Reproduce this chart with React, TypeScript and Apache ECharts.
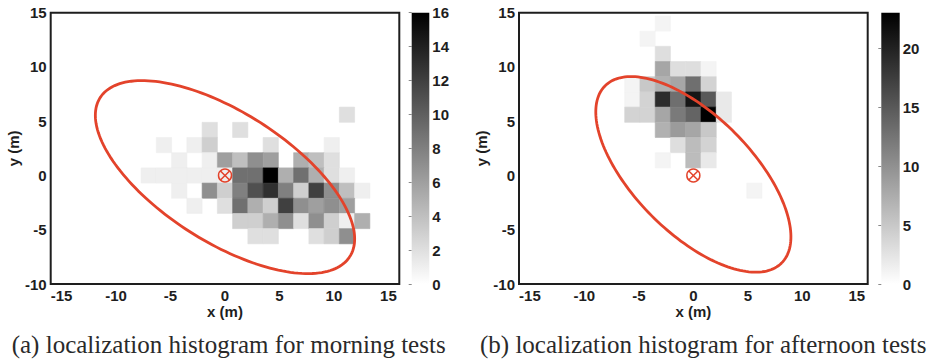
import React, { useEffect, useRef } from "react";
import * as echarts from "echarts";

// Histogram bin size (m) and cell counts: [column index, row index, count]
const BIN = 1.4;

const MORNING_COUNTS: [number, number, number][] = [
  [8, 4, 2],
  [-1, 3, 2], [1, 3, 2],
  [-4, 2, 1], [-2, 2, 1], [-1, 2, 3], [3, 2, 2], [7, 2, 1],
  [-3, 1, 1], [-1, 1, 1], [0, 1, 6], [1, 1, 4], [2, 1, 7], [3, 1, 6], [5, 1, 5], [6, 1, 4], [7, 1, 2],
  [-5, 0, 1], [-4, 0, 1], [-3, 0, 1], [-2, 0, 1], [-1, 0, 1], [0, 0, 1],
  [1, 0, 9], [2, 0, 9], [3, 0, 16], [4, 0, 5], [5, 0, 9], [6, 0, 5], [7, 0, 2], [8, 0, 1],
  [-3, -1, 1], [-1, -1, 7], [0, -1, 3], [1, -1, 8], [2, -1, 11], [3, -1, 13], [4, -1, 8],
  [5, -1, 3], [6, -1, 12], [7, -1, 7], [8, -1, 4], [9, -1, 1],
  [-2, -2, 1], [0, -2, 2], [1, -2, 9], [2, -2, 5], [3, -2, 3], [4, -2, 12], [5, -2, 7],
  [6, -2, 6], [7, -2, 7], [8, -2, 6],
  [1, -3, 3], [2, -3, 3], [3, -3, 5], [4, -3, 7], [5, -3, 2], [6, -3, 7], [7, -3, 3], [8, -3, 1], [9, -3, 5],
  [2, -4, 2], [3, -4, 2], [6, -4, 2], [7, -4, 3], [8, -4, 7],
];

const AFTERNOON_COUNTS: [number, number, number][] = [
  [-2, 10, 1],
  [-3, 9, 1],
  [-2, 8, 3],
  [-2, 7, 8], [-1, 7, 3], [0, 7, 3], [1, 7, 1],
  [-4, 6, 1], [-3, 6, 5], [-2, 6, 7], [-1, 6, 8], [0, 6, 13], [1, 6, 4],
  [-4, 5, 1], [-3, 5, 4], [-2, 5, 19], [-1, 5, 13], [0, 5, 21], [1, 5, 15], [2, 5, 2],
  [-4, 4, 4], [-3, 4, 4], [-2, 4, 8], [-1, 4, 12], [0, 4, 14], [1, 4, 23], [2, 4, 2],
  [-2, 3, 7], [-1, 3, 9], [0, 3, 8], [1, 3, 5],
  [-1, 2, 3], [0, 2, 6], [1, 2, 4],
  [-2, 1, 1], [0, 1, 6], [1, 1, 2],
  [4, -1, 1],
];

// Error ellipses: [centerX, centerY, semiMajor, semiMinor, angleDeg]
const MORNING_ELLIPSE: number[] = [0, -0.15, 13.6, 5.98, -32.6];
const AFTERNOON_ELLIPSE: number[] = [0, 0.1, 11.5, 5.4, -45.3];

// True target position
const TARGET: number[] = [0, 0];

// Colour-bar maxima and ticks
const MORNING_MAX = 16;
const AFTERNOON_MAX = 23;
const MORNING_CB_INTERVAL = 2;
const AFTERNOON_CB_INTERVAL = 5;

const X_MIN = -16;
const X_MAX = 16;
const X_TICKS = [-15, -10, -5, 0, 5, 10, 15];
const Y_MIN = -10;
const Y_MAX = 15;
const Y_INTERVAL = 5;

const CAPTION_A = "(a) localization histogram for morning tests";
const CAPTION_B = "(b) localization histogram for afternoon tests";
const X_NAME = "x (m)";
const Y_NAME = "y (m)";

const RED = "#e3432b";
const INK = "#1e1e1e";
const LABEL_FONT = {
  fontFamily: "Liberation Sans, Arial, sans-serif",
  fontWeight: "bold" as const,
  fontSize: 15,
  color: INK,
};

function gray(v: number, max: number): string {
  const t = Math.max(0, Math.min(1, v / max));
  const g = Math.round(255 * (1 - t));
  return `rgb(${g},${g},${g})`;
}

function heatSeries(counts: [number, number, number][], max: number, idx: number) {
  return {
    type: "custom",
    xAxisIndex: idx,
    yAxisIndex: idx,
    z: 1,
    encode: { x: 0, y: 1 },
    data: counts.map(([c, r, v]) => [c * BIN, r * BIN, v]),
    renderItem: (_params: any, api: any) => {
      const x = api.value(0);
      const y = api.value(1);
      const v = api.value(2);
      const p0 = api.coord([x - BIN / 2, y + BIN / 2]);
      const p1 = api.coord([x + BIN / 2, y - BIN / 2]);
      const col = gray(v, max);
      return {
        type: "rect",
        shape: { x: p0[0], y: p0[1], width: p1[0] - p0[0], height: p1[1] - p0[1] },
        style: { fill: col, stroke: col, lineWidth: 0.6 },
      };
    },
  };
}

function ellipseSeries(params: number[], idx: number) {
  return {
    type: "custom",
    xAxisIndex: idx,
    yAxisIndex: idx,
    z: 3,
    encode: { x: 0, y: 1 },
    data: [params],
    renderItem: (_params: any, api: any) => {
      const cx = api.value(0);
      const cy = api.value(1);
      const a = api.value(2);
      const b = api.value(3);
      const th = (api.value(4) * Math.PI) / 180;
      const pts: number[][] = [];
      const N = 180;
      for (let k = 0; k <= N; k++) {
        const t = (2 * Math.PI * k) / N;
        const dx = a * Math.cos(t) * Math.cos(th) - b * Math.sin(t) * Math.sin(th);
        const dy = a * Math.cos(t) * Math.sin(th) + b * Math.sin(t) * Math.cos(th);
        pts.push(api.coord([cx + dx, cy + dy]));
      }
      return {
        type: "polyline",
        shape: { points: pts },
        style: { fill: "none", stroke: RED, lineWidth: 2.8 },
      };
    },
  };
}

function markerSeries(idx: number) {
  return {
    type: "custom",
    xAxisIndex: idx,
    yAxisIndex: idx,
    z: 4,
    encode: { x: 0, y: 1 },
    data: [TARGET],
    renderItem: (_params: any, api: any) => {
      const p = api.coord([api.value(0), api.value(1)]);
      const r = 6.5;
      const d = r * 0.7;
      const st = { stroke: RED, lineWidth: 1.5, fill: "none" };
      return {
        type: "group",
        children: [
          { type: "circle", shape: { cx: p[0], cy: p[1], r }, style: st },
          { type: "line", shape: { x1: p[0] - d, y1: p[1] - d, x2: p[0] + d, y2: p[1] + d }, style: st },
          { type: "line", shape: { x1: p[0] + d, y1: p[1] - d, x2: p[0] - d, y2: p[1] + d }, style: st },
        ],
      };
    },
  };
}

function colorbarSeries(max: number, idx: number) {
  return {
    type: "custom",
    xAxisIndex: idx,
    yAxisIndex: idx,
    encode: { x: 0, y: 1 },
    data: [[0, 0, 1, max]],
    renderItem: (_params: any, api: any) => {
      const p0 = api.coord([api.value(0), api.value(3)]);
      const p1 = api.coord([api.value(2), api.value(1)]);
      return {
        type: "rect",
        shape: { x: p0[0], y: p0[1], width: p1[0] - p0[0], height: p1[1] - p0[1] },
        style: {
          fill: new echarts.graphic.LinearGradient(0, 0, 0, 1, [
            { offset: 0, color: "#000000" },
            { offset: 1, color: "#ffffff" },
          ]),
        },
      };
    },
  };
}

function mainX(gridIndex: number) {
  return {
    type: "value",
    gridIndex,
    min: X_MIN,
    max: X_MAX,
    name: X_NAME,
    nameLocation: "middle",
    nameGap: 21,
    nameMoveOverlap: false,
    nameTextStyle: { ...LABEL_FONT, verticalAlign: "top", lineHeight: 13, padding: [0, 0, 0, 0] },
    axisLine: { show: false },
    axisTick: { show: false },
    splitLine: { show: false },
    axisLabel: { ...LABEL_FONT, lineHeight: 13, margin: 5, customValues: X_TICKS },
  };
}

function mainY(gridIndex: number) {
  return {
    type: "value",
    gridIndex,
    min: Y_MIN,
    max: Y_MAX,
    interval: Y_INTERVAL,
    name: Y_NAME,
    nameLocation: "middle",
    nameGap: 29,
    nameTextStyle: { ...LABEL_FONT },
    axisLine: { show: false },
    axisTick: { show: false },
    splitLine: { show: false },
    axisLabel: { ...LABEL_FONT, margin: 4 },
  };
}

function cbX(gridIndex: number) {
  return { type: "value", gridIndex, min: 0, max: 1, show: false };
}

function cbY(gridIndex: number, max: number, interval: number) {
  return {
    type: "value",
    gridIndex,
    position: "right",
    min: 0,
    max,
    interval,
    axisLine: { show: false },
    axisTick: { show: true, inside: true, length: 3, lineStyle: { color: "#8a8a8a", width: 1 } },
    splitLine: { show: false },
    axisLabel: { ...LABEL_FONT, margin: 3, showMaxLabel: max % interval === 0 },
  };
}

export default function App() {
  const ref = useRef<HTMLDivElement>(null);

  useEffect(() => {
    if (!ref.current) return;
    const chart = echarts.init(ref.current, undefined, { renderer: "svg" });
    const top = 12.7;
    const height = 271.3;
    const captionStyle = {
      fontFamily: "Liberation Serif, Times New Roman, serif",
      fontSize: 25,
      fill: "#2a2a2a",
      align: "left",
      verticalAlign: "middle",
    };
    chart.setOption({
      animation: false,
      backgroundColor: "#ffffff",
      grid: [
        { left: 50.7, top, width: 348.6, height, show: true, borderColor: INK, borderWidth: 2, backgroundColor: "transparent" },
        { left: 411.7, top, width: 17.6, height },
        { left: 519, top, width: 348.7, height, show: true, borderColor: INK, borderWidth: 2, backgroundColor: "transparent" },
        { left: 881.3, top, width: 18.4, height },
      ],
      xAxis: [mainX(0), cbX(1), mainX(2), cbX(3)],
      yAxis: [
        mainY(0),
        cbY(1, MORNING_MAX, MORNING_CB_INTERVAL),
        mainY(2),
        cbY(3, AFTERNOON_MAX, AFTERNOON_CB_INTERVAL),
      ],
      series: [
        heatSeries(MORNING_COUNTS, MORNING_MAX, 0),
        ellipseSeries(MORNING_ELLIPSE, 0),
        markerSeries(0),
        colorbarSeries(MORNING_MAX, 1),
        heatSeries(AFTERNOON_COUNTS, AFTERNOON_MAX, 2),
        ellipseSeries(AFTERNOON_ELLIPSE, 2),
        markerSeries(2),
        colorbarSeries(AFTERNOON_MAX, 3),
      ],
      graphic: [
        { type: "text", x: 11.7, y: 344, style: { ...captionStyle, text: CAPTION_A } },
        { type: "text", x: 480, y: 344, style: { ...captionStyle, text: CAPTION_B } },
      ],
    });
    return () => chart.dispose();
  }, []);

  return (
    <div
      ref={ref}
      style={{ position: "absolute", left: 0, top: 0, width: 928, height: 364, background: "#fff" }}
    />
  );
}
